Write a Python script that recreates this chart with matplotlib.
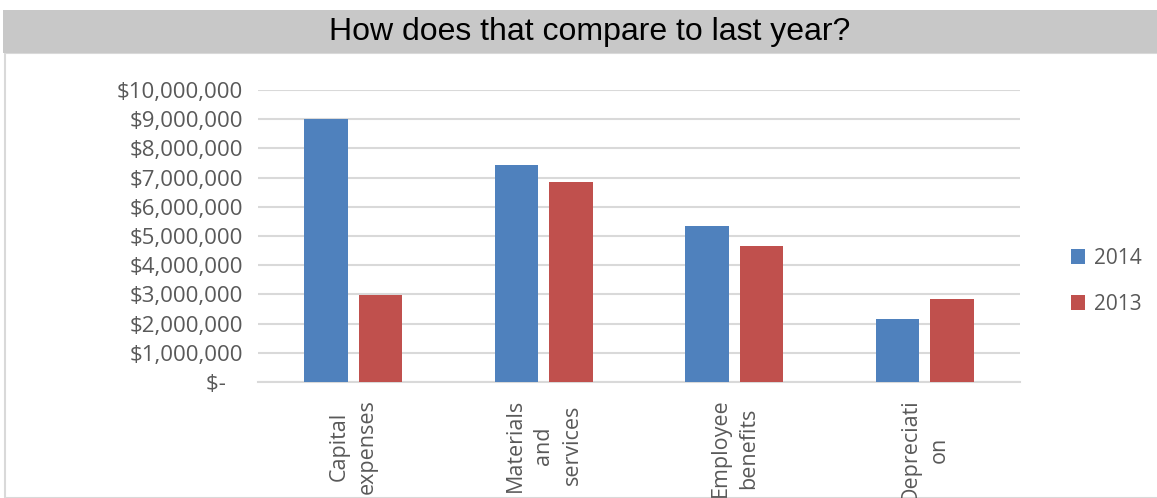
import matplotlib.pyplot as plt
import numpy as np
from matplotlib.patches import Rectangle

categories = ["Capital\nexpenses", "Materials\nand\nservices", "Employee\nbenefits", "Depreciati\non"]
vals_2014 = [9000000, 7430000, 5330000, 2160000]
vals_2013 = [2980000, 6850000, 4660000, 2840000]
yticks = [0, 1000000, 2000000, 3000000, 4000000, 5000000, 6000000, 7000000, 8000000, 9000000, 10000000]
ytick_labels = ["$-   "] + ["${:,}".format(v) for v in yticks[1:]]

grey = '#595959'
plt.rcParams['font.family'] = ['Open Sans', 'DejaVu Sans']

fig = plt.figure(figsize=(11.57, 4.98), dpi=100)

# title banner and chart frame
fig.patches.append(Rectangle((4.5/1157, 0), 1, (498-53)/498, transform=fig.transFigure,
                             facecolor='white', edgecolor='#d9d9d9', lw=1.5, zorder=-10))
fig.patches.append(Rectangle((3/1157, (498-53)/498), 1, 43/498, transform=fig.transFigure,
                             facecolor='#c8c8c8', edgecolor='none', zorder=-9))
fig.text(0.51, (498-32)/498, "How does that compare to last year?", ha='center', va='center',
         fontsize=23, color='black', family=['Liberation Sans', 'DejaVu Sans'])

ax = fig.add_axes([258/1157, (498-382)/498, (1020-258)/1157, (382-90)/498])
x = np.arange(len(categories))
w = 0.226
ax.bar(x - 0.143, vals_2014, w, color='#4F81BD', label='2014', zorder=3)
ax.bar(x + 0.143, vals_2013, w, color='#C0504D', label='2013', zorder=3)

ax.set_xlim(-0.5, 3.5)
ax.set_ylim(0, 10000000)
ax.set_yticks(yticks)
ax.set_yticklabels(ytick_labels)
ax.set_xticks(x)
ax.set_xticklabels(categories, rotation=90, va='top', ha='center', multialignment='center',
                   linespacing=1.45)
ax.tick_params(axis='y', length=0, pad=11, labelsize=16, labelcolor=grey)
ax.tick_params(axis='x', length=0, pad=12, labelsize=15.5, labelcolor=grey)
ax.grid(axis='y', color='#d9d9d9', lw=1.5, zorder=0)
for s in ['top', 'right', 'left']:
    ax.spines[s].set_visible(False)
ax.spines['bottom'].set_color('#d9d9d9')
ax.spines['bottom'].set_linewidth(1.5)

leg = fig.legend(loc='center left', bbox_to_anchor=(1052/1157, (498-281)/498), frameon=False,
                 fontsize=15, labelcolor=grey, handlelength=0.7, handleheight=0.7,
                 handletextpad=0.4, labelspacing=1.2)

fig.savefig('out.png', dpi=100)
